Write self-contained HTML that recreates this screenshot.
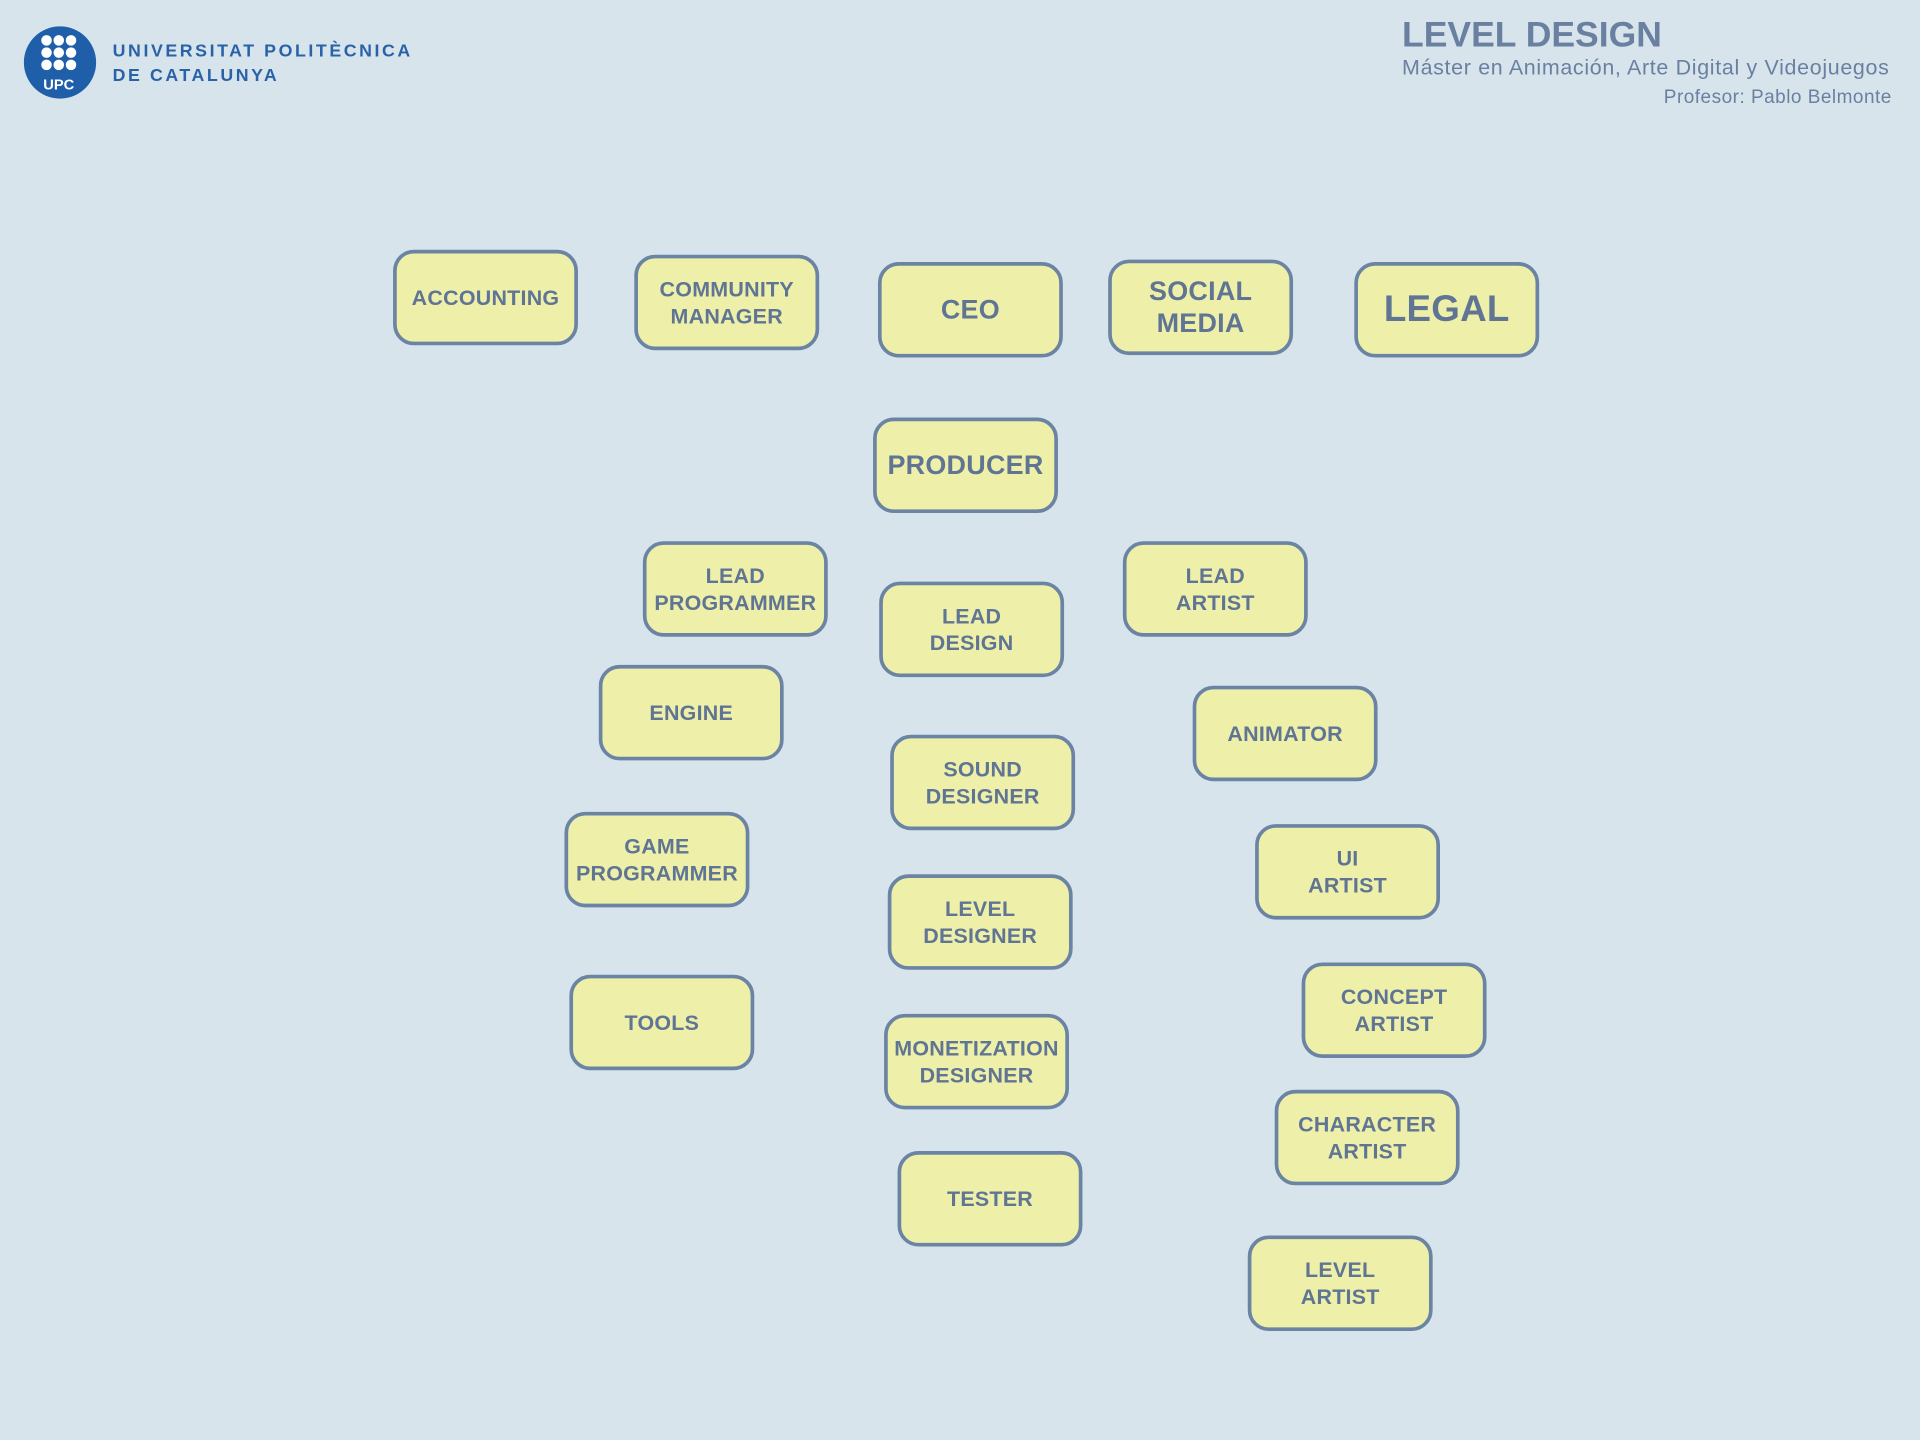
<!DOCTYPE html>
<html><head><meta charset="utf-8"><style>
html,body{margin:0;padding:0;width:1920px;height:1440px;overflow:hidden;background:#d7e4ec;}
#wrap{position:absolute;left:0;top:0;width:1568px;height:1176px;transform:scale(1.22449);transform-origin:0 0;font-family:"Liberation Sans",sans-serif;}
.box{position:absolute;width:146px;height:73px;box-sizing:border-box;border:3px solid #6b84a3;border-radius:17px;background:#eef0aa;display:flex;align-items:center;justify-content:center;text-align:center;color:#5f7593;font-size:17.5px;line-height:22px;font-weight:bold;letter-spacing:0.2px;}
.hdr{position:absolute;color:#6a80a0;font-weight:bold;white-space:nowrap;}
</style></head><body>
<div id="wrap">
<svg style="position:absolute;left:19px;top:21px" width="60" height="60">
<circle cx="30" cy="30" r="29.5" fill="#1f5ea8"/>
<g fill="#fff">
<circle cx="19" cy="12" r="4.3"/><circle cx="29" cy="12" r="4.3"/><circle cx="39" cy="12" r="4.3"/>
<circle cx="19" cy="22" r="4.3"/><circle cx="29" cy="22" r="4.3"/><circle cx="39" cy="22" r="4.3"/>
<circle cx="19" cy="32" r="4.3"/><circle cx="29" cy="32" r="4.3"/><circle cx="39" cy="32" r="4.3"/>
</g>
<text x="29" y="52" text-anchor="middle" font-family="Liberation Sans" font-weight="bold" font-size="12" fill="#fff">UPC</text>
</svg>
<div style="position:absolute;left:92px;top:32px;color:#2a62a8;font-weight:bold;font-size:14.5px;line-height:20px;letter-spacing:2.1px">UNIVERSITAT POLITÈCNICA<br>DE CATALUNYA</div>
<div class="hdr" style="left:1145px;top:13px;font-size:29px">LEVEL DESIGN</div>
<div class="hdr" style="left:1145px;top:45px;font-size:17.5px;font-weight:normal;letter-spacing:0.55px">Máster en Animación, Arte Digital y Videojuegos</div>
<div class="hdr" style="right:23px;top:71px;font-size:15.5px;font-weight:normal;letter-spacing:0.4px">Profesor: Pablo Belmonte</div>
<div id="boxes"></div>
</div>
<script>
var labels=["ACCOUNTING","COMMUNITY<br>MANAGER","CEO","SOCIAL<br>MEDIA","LEGAL","PRODUCER","LEAD<br>PROGRAMMER","LEAD<br>DESIGN","LEAD<br>ARTIST","ENGINE","ANIMATOR","SOUND<br>DESIGNER","GAME<br>PROGRAMMER","UI<br>ARTIST","LEVEL<br>DESIGNER","TOOLS","CONCEPT<br>ARTIST","MONETIZATION<br>DESIGNER","CHARACTER<br>ARTIST","TESTER","LEVEL<br>ARTIST"];
var xs=[321,518,717,905,1106,713,525,718,917,489,974,727,461,1025,725,465,1063,722,1041,733,1019];
var ys=[204,208,214,212,214,341,442,475,442,543,560,600,663,673,714,796,786,828,890,940,1009];
var sizes=[17.5,17.5,22,22,30,22,17.5,17.5,17.5,17.5,17.5,17.5,17.5,17.5,17.5,17.5,17.5,17.5,17.5,17.5,17.5];
var c=document.getElementById('boxes');
for(var i=0;i<labels.length;i++){
 var d=document.createElement('div');
 d.className='box';
 d.style.left=xs[i]+'px';d.style.top=ys[i]+'px';
 d.style.width='151px';d.style.height='78px';
 d.style.fontSize=sizes[i]+'px';
 if(sizes[i]>20)d.style.lineHeight=(sizes[i]*1.2)+'px';
 d.innerHTML=labels[i];
 
 
 c.appendChild(d);
}
</script>
</body></html>
